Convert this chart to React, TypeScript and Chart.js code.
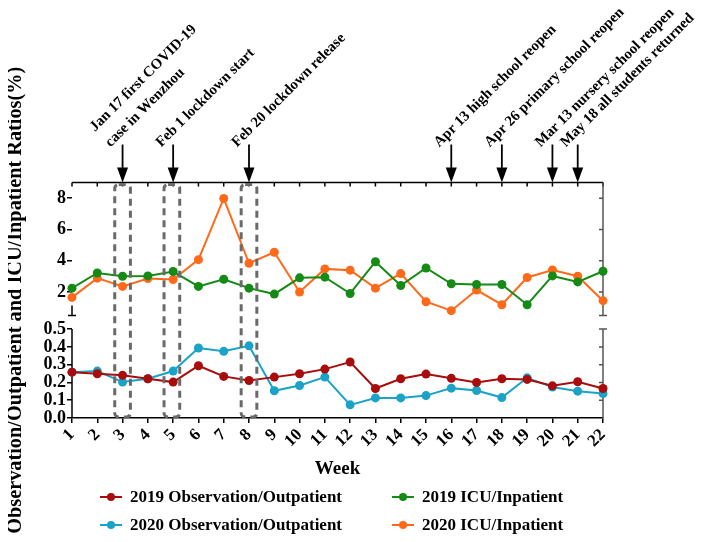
import React, { useEffect, useRef } from 'react';
import { Chart, registerables, LinearScale } from 'chart.js';

// ---------------- data ----------------
const weeks = ['1', '2', '3', '4', '5', '6', '7', '8', '9', '10', '11', '12', '13', '14', '15', '16', '17', '18', '19', '20', '21', '22'];

const obs2019 = [0.258, 0.249, 0.240, 0.221, 0.202, 0.294, 0.234, 0.211, 0.230, 0.249, 0.275, 0.315, 0.166, 0.221, 0.247, 0.223, 0.200, 0.221, 0.217, 0.181, 0.204, 0.166];
const obs2020 = [0.258, 0.264, 0.202, 0.221, 0.264, 0.394, 0.375, 0.406, 0.153, 0.183, 0.230, 0.074, 0.113, 0.113, 0.126, 0.168, 0.155, 0.115, 0.226, 0.174, 0.151, 0.138];
const icu2019 = [2.25, 3.22, 3.01, 3.03, 3.31, 2.36, 2.82, 2.25, 1.87, 2.91, 2.95, 1.91, 3.94, 2.42, 3.54, 2.53, 2.48, 2.48, 1.19, 3.03, 2.65, 3.33];
const icu2020 = [1.66, 2.89, 2.36, 2.86, 2.80, 4.07, 7.98, 3.84, 4.54, 2.00, 3.48, 3.40, 2.25, 3.18, 1.38, 0.81, 2.13, 1.19, 2.93, 3.41, 3.01, 1.45];

const seriesLabels = ['2019 Observation/Outpatient', '2019 ICU/Inpatient', '2020 Observation/Outpatient', '2020 ICU/Inpatient'];
const seriesColors = ['#a80c0c', '#158a15', '#1aa3c6', '#ff6a1a'];

// broken y axis: lower segment 0–0.5, upper segment 0.5–9
const lowerTicks = [0, 0.1, 0.2, 0.3, 0.4, 0.5];
const upperTicks = [2, 4, 6, 8];
const LOW_MIN = 0;
const BREAK_VALUE = 0.5;
const HIGH_MAX = 9;

// events (week index on x axis)
const eventWeeks = [3, 5, 8, 16, 18, 20, 21];
const eventLabels = [
  ['Jan 17 first COVID-19', 'case in Wenzhou'],
  ['Feb 1 lockdown start'],
  ['Feb 20 lockdown release'],
  ['Apr 13 high school reopen'],
  ['Apr 26 primary school reopen'],
  ['Mar 13 nursery school reopen'],
  ['May 18 all students returned'],
];
// dashed highlight boxes (week centres)
const boxWeeks = [3, 4.95, 8];

// ---------------- styles ----------------
const SERIF = "'Liberation Serif', 'Times New Roman', serif";
const LOWER_FRAC = 0.3774;
const GAP_FRAC = 0.0577;

class BrokenLinearScale extends LinearScale {
  static id = 'brokenLinear';
  static defaults = LinearScale.defaults;
  segs() {
    const H = this.bottom - this.top;
    const hb = H * LOWER_FRAC;
    const gap = H * GAP_FRAC;
    return { lowTop: this.bottom - hb, highBottom: this.bottom - hb - gap };
  }
  getPixelForValue(value: any) {
    if (value === null || value === undefined || isNaN(value)) return NaN;
    const { lowTop, highBottom } = this.segs();
    if (value <= BREAK_VALUE) {
      return this.bottom - ((value - LOW_MIN) / (BREAK_VALUE - LOW_MIN)) * (this.bottom - lowTop);
    }
    return highBottom - ((value - BREAK_VALUE) / (HIGH_MAX - BREAK_VALUE)) * (highBottom - this.top);
  }
  getValueForPixel(pixel: number) {
    const { lowTop, highBottom } = this.segs();
    if (pixel >= lowTop) {
      return LOW_MIN + ((this.bottom - pixel) / (this.bottom - lowTop)) * (BREAK_VALUE - LOW_MIN);
    }
    return BREAK_VALUE + ((highBottom - pixel) / (highBottom - this.top)) * (HIGH_MAX - BREAK_VALUE);
  }
}

Chart.register(...registerables, BrokenLinearScale);

const decorPlugin = {
  id: 'decor',
  beforeDatasetsDraw(chart: any) {
    const { ctx, chartArea: ca, scales } = chart;
    const x = scales.x;
    const y = scales.y;
    const { lowTop, highBottom } = y.segs();
    ctx.save();
    ctx.strokeStyle = '#000';
    ctx.lineWidth = 1.5;
    ctx.beginPath();
    // left axis, lower segment
    ctx.moveTo(ca.left, ca.bottom);
    ctx.lineTo(ca.left, lowTop);
    // left axis, stub of upper segment with cap
    ctx.moveTo(ca.left, highBottom - 10);
    ctx.lineTo(ca.left, highBottom);
    ctx.moveTo(ca.left - 4, highBottom);
    ctx.lineTo(ca.left + 4, highBottom);
    // top border
    ctx.moveTo(ca.left, ca.top);
    ctx.lineTo(ca.right, ca.top);
    for (let i = 0; i < weeks.length; i++) {
      const px = x.getPixelForValue(i);
      ctx.moveTo(px, ca.top);
      ctx.lineTo(px, ca.top + 4);
    }
    ctx.stroke();
    // right axis
    ctx.strokeStyle = '#555';
    ctx.beginPath();
    ctx.moveTo(ca.right, ca.top);
    ctx.lineTo(ca.right, highBottom);
    ctx.moveTo(ca.right - 4, highBottom);
    ctx.lineTo(ca.right + 4, highBottom);
    upperTicks.forEach((v) => {
      const py = y.getPixelForValue(v);
      ctx.moveTo(ca.right - 4, py);
      ctx.lineTo(ca.right, py);
    });
    ctx.moveTo(ca.right, lowTop);
    ctx.lineTo(ca.right, ca.bottom);
    ctx.moveTo(ca.right - 4, lowTop);
    ctx.lineTo(ca.right + 4, lowTop);
    lowerTicks.slice(1, -1).forEach((v) => {
      const py = y.getPixelForValue(v);
      ctx.moveTo(ca.right - 4, py);
      ctx.lineTo(ca.right, py);
    });
    ctx.stroke();
    ctx.restore();
  },
  afterDatasetsDraw(chart: any) {
    const { ctx, chartArea: ca, scales } = chart;
    const x = scales.x;
    ctx.save();
    ctx.strokeStyle = '#6a6a6a';
    ctx.lineWidth = 3;
    ctx.setLineDash([7, 5]);
    boxWeeks.forEach((w) => {
      const l = x.getPixelForValue(w - 1 - 0.31);
      const r = x.getPixelForValue(w - 1 + 0.31);
      const t = ca.top + 2;
      const b = ca.bottom - 1;
      ctx.beginPath();
      ctx.roundRect(l, t, r - l, b - t, 4);
      ctx.stroke();
    });
    ctx.restore();
  },
  afterDraw(chart: any) {
    const { ctx, chartArea: ca, scales, data } = chart;
    const x = scales.x;
    ctx.save();
    // event arrows + labels
    ctx.fillStyle = '#000';
    ctx.strokeStyle = '#000';
    ctx.lineWidth = 1.8;
    ctx.font = `bold 14.8px ${SERIF}`;
    ctx.textAlign = 'left';
    ctx.textBaseline = 'alphabetic';
    eventWeeks.forEach((w, k) => {
      const ax = x.getPixelForValue(w - 1);
      const topY = ca.top - 38;
      ctx.beginPath();
      ctx.moveTo(ax, topY);
      ctx.lineTo(ax, ca.top - 12);
      ctx.stroke();
      ctx.beginPath();
      ctx.moveTo(ax - 5.5, ca.top - 15);
      ctx.lineTo(ax + 5.5, ca.top - 15);
      ctx.lineTo(ax, ca.top);
      ctx.closePath();
      ctx.fill();
      const lines = eventLabels[k];
      ctx.save();
      ctx.translate(ax - 12, topY + 3);
      ctx.rotate(-Math.PI / 4);
      lines.forEach((ln, i) => {
        ctx.fillText(ln, 0, -(lines.length - 1 - i) * 22);
      });
      ctx.restore();
    });
    // legend
    const colX = [100, 392];
    const rowY = [497, 525];
    ctx.font = `bold 17px ${SERIF}`;
    ctx.textBaseline = 'middle';
    data.datasets.forEach((ds: any, i: number) => {
      const cx = colX[i % 2];
      const cy = rowY[Math.floor(i / 2)];
      ctx.strokeStyle = ds.borderColor;
      ctx.fillStyle = ds.borderColor;
      ctx.lineWidth = 2;
      ctx.beginPath();
      ctx.moveTo(cx, cy);
      ctx.lineTo(cx + 22, cy);
      ctx.stroke();
      ctx.beginPath();
      ctx.arc(cx + 11, cy, 4, 0, Math.PI * 2);
      ctx.fill();
      ctx.fillStyle = '#000';
      ctx.fillText(ds.label, cx + 30, cy + 1);
    });
    ctx.restore();
  },
};

function makeDataset(i: number, values: number[]) {
  return {
    label: seriesLabels[i],
    data: values,
    borderColor: seriesColors[i],
    backgroundColor: seriesColors[i],
    pointBackgroundColor: seriesColors[i],
    pointBorderColor: seriesColors[i],
    borderWidth: 2,
    pointRadius: 4.5,
    pointBorderWidth: 0,
    tension: 0,
    fill: false,
    clip: false as any,
  };
}

export default function App() {
  const ref = useRef<HTMLCanvasElement | null>(null);
  useEffect(() => {
    if (!ref.current) return;
    const chart = new Chart(ref.current, {
      type: 'line',
      data: {
        labels: weeks,
        datasets: [
          makeDataset(0, obs2019),
          makeDataset(1, icu2019),
          makeDataset(2, obs2020),
          makeDataset(3, icu2020),
        ],
      },
      options: {
        animation: false,
        responsive: true,
        maintainAspectRatio: false,
        events: [],
        layout: { padding: { left: 0, right: 105, top: 182.5, bottom: 62 } },
        plugins: { legend: { display: false }, tooltip: { enabled: false } },
        scales: {
          x: {
            type: 'category',
            offset: false,
            grid: { display: true, drawOnChartArea: false, drawTicks: true, tickLength: 5, color: '#000', lineWidth: 1.5, offset: false },
            border: { display: true, color: '#000', width: 1.5 },
            ticks: {
              color: '#000',
              font: { family: SERIF, weight: 'bold', size: 17 },
              minRotation: 45,
              maxRotation: 45,
              autoSkip: false,
              padding: 2,
            },
            title: {
              display: true,
              text: 'Week',
              color: '#000',
              font: { family: SERIF, weight: 'bold', size: 19 },
              padding: { top: 0, bottom: 0 },
            },
            afterFit: (s: any) => {
              s.height = 62;
            },
          },
          y: {
            type: 'brokenLinear' as any,
            min: LOW_MIN,
            max: HIGH_MAX,
            grid: { display: true, drawOnChartArea: false, drawTicks: true, tickLength: 5, color: '#000', lineWidth: 1.5 },
            border: { display: false },
            afterBuildTicks: (s: any) => {
              s.ticks = [...lowerTicks, ...upperTicks].map((v) => ({ value: v }));
            },
            ticks: {
              color: '#000',
              autoSkip: false,
              padding: 1,
              font: { family: SERIF, weight: 'bold', size: 18 },
              callback: (v: any) => (v <= BREAK_VALUE ? Number(v).toFixed(1) : String(v)),
            },
            title: {
              display: true,
              text: 'Observation/Outpatient and ICU/Inpatient Ratios(%)',
              color: '#000',
              font: { family: SERIF, weight: 'bold', size: 20.3 },
              padding: { top: 4, bottom: 0 },
            },
            afterFit: (s: any) => {
              s.width = 72;
            },
          } as any,
        },
      },
      plugins: [decorPlugin],
    });
    return () => chart.destroy();
  }, []);
  return (
    <div style={{ position: 'relative', width: 708, height: 542, margin: -8 }}>
      <canvas ref={ref} />
    </div>
  );
}
